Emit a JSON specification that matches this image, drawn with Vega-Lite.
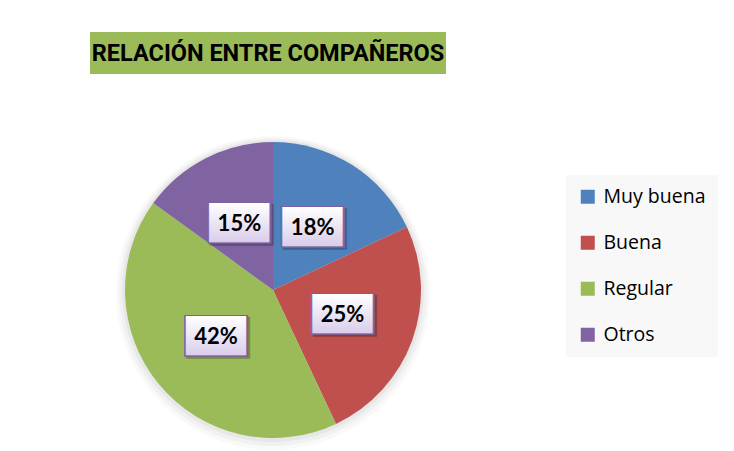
{
  "$schema": "https://vega.github.io/schema/vega-lite/v6.json",
  "padding": {"left": 90, "top": 32, "right": 0, "bottom": 5},
  "background": "white",
  "bounds": "flush",
  "spacing": 68,
  "config": {"view": {"stroke": null}},
  "vconcat": [
    {
      "width": 356,
      "height": 42,
      "view": {"fill": "#9BBB59", "stroke": null},
      "data": {"values": [{"titulo": "RELACIÓN ENTRE COMPAÑEROS"}]},
      "mark": {"type": "text", "font": "Roboto", "fontWeight": "bold", "fontSize": 23.5, "color": "#000000", "baseline": "middle", "align": "center", "dy": 1},
      "encoding": {"text": {"field": "titulo"}}
    },
    {
      "width": 366,
      "height": 296,
      "data": {"values": [
        {"orden": 1, "categoria": "Muy buena", "valor": 0.18},
        {"orden": 2, "categoria": "Buena", "valor": 0.25},
        {"orden": 3, "categoria": "Regular", "valor": 0.42},
        {"orden": 4, "categoria": "Otros", "valor": 0.15}
      ]},
      "encoding": {
        "theta": {"field": "valor", "type": "quantitative", "stack": true},
        "order": {"field": "orden", "type": "ordinal"}
      },
      "layer": [
        {"mark": {"type": "arc", "outerRadius": 157, "color": "#000000", "opacity": 0.025, "yOffset": 3}},
        {"mark": {"type": "arc", "outerRadius": 154, "color": "#000000", "opacity": 0.03, "yOffset": 2}},
        {"mark": {"type": "arc", "outerRadius": 151, "color": "#000000", "opacity": 0.04, "yOffset": 1}},
        {
          "mark": {"type": "arc", "outerRadius": 148},
          "encoding": {
            "color": {
              "field": "categoria",
              "type": "nominal",
              "sort": ["Muy buena", "Buena", "Regular", "Otros"],
              "scale": {"domain": ["Muy buena", "Buena", "Regular", "Otros"], "range": ["#4F81BD", "#C0504D", "#9BBB59", "#8064A2"]},
              "legend": {
                "orient": "none", "legendX": 476, "legendY": 143, "title": null,
                "fillColor": "#F8F8F8", "padding": 12,
                "symbolType": "square", "symbolSize": 196, "symbolStrokeWidth": 0, "symbolOpacity": 1,
                "labelFont": "Open Sans", "labelFontSize": 19.5, "labelColor": "#000000", "labelOffset": 6,
                "rowPadding": 25
              }
            }
          }
        },
        {"mark": {"type": "text", "radius": 74, "text": "███", "font": "DejaVu Sans Mono", "fontSize": 35, "fill": "#000000", "opacity": 0.25, "baseline": "middle", "align": "center", "dx": 2, "dy": 2}},
        {"mark": {"type": "text", "radius": 74, "text": "███", "font": "DejaVu Sans Mono", "fontSize": 35, "fill": "#7D60A0", "baseline": "middle", "align": "center"}},
        {"mark": {"type": "text", "radius": 74, "text": "███", "font": "DejaVu Sans Mono", "fontSize": 33, "baseline": "middle", "align": "center",
          "fill": {"gradient": "linear", "x1": 0, "y1": 0, "x2": 0, "y2": 1, "stops": [{"offset": 0, "color": "#FFFFFF"}, {"offset": 1, "color": "#D9CCEA"}]}}},
        {
          "mark": {"type": "text", "radius": 74, "font": "Lato", "fontWeight": "bold", "fontSize": 22, "fill": "#000000", "baseline": "middle", "align": "center"},
          "encoding": {"text": {"field": "valor", "type": "quantitative", "format": ".0%"}}
        }
      ]
    }
  ]
}
